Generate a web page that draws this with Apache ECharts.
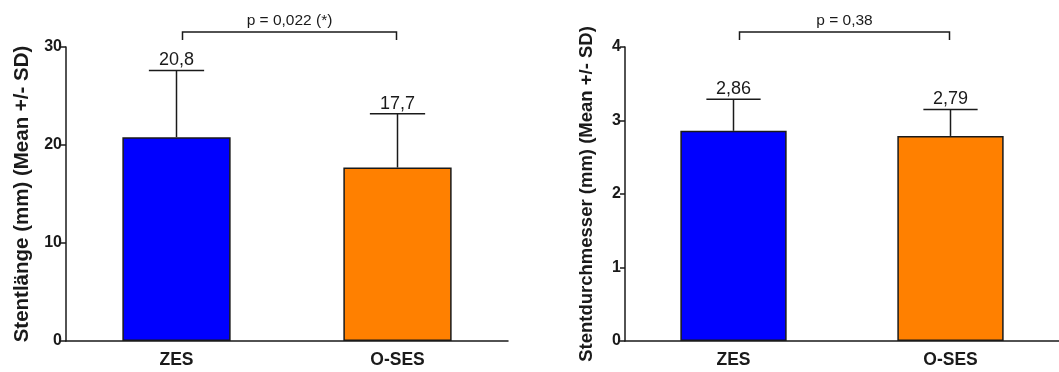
<!DOCTYPE html>
<html>
<head>
<meta charset="utf-8">
<script src="https://cdn.jsdelivr.net/npm/echarts@6/dist/echarts.min.js"></script>
<style>
  html, body { margin: 0; padding: 0; background: #fff; }
  #chart { width: 1059px; height: 372px; }
</style>
</head>
<body>
<div id="chart"></div>
<script>
// Stent length and diameter by stent type (mean +/- SD)
const categories = ['ZES', 'O-SES'];
const barColors = ['#0000ff', '#ff8000'];

const lengthMean = [20.8, 17.7];
const lengthSD = [6.8, 5.5];
const lengthTicks = { max: 30, interval: 10 };
const lengthPText = 'p = 0,022 (*)';

const diamMean = [2.86, 2.79];
const diamSD = [0.43, 0.36];
const diamTicks = { max: 4, interval: 1 };
const diamPText = 'p = 0,38';

const fontFamily = 'Liberation Sans, Arial, sans-serif';
const fmt = v => String(v).replace('.', ',');

function barSeries(idx, means) {
  return {
    type: 'bar',
    xAxisIndex: idx, yAxisIndex: idx,
    barWidth: '49%',
    data: means.map((v, i) => ({
      value: v,
      itemStyle: { color: barColors[i], borderColor: '#1a1a1a', borderWidth: 1.5 }
    })),
    z: 2
  };
}

// error bar (upper whisker only) with the mean written above the cap
function errorSeries(idx, means, sds) {
  return {
    type: 'custom',
    xAxisIndex: idx, yAxisIndex: idx,
    clip: false,
    z: 3,
    data: means.map((m, i) => [i, m, sds[i]]),
    renderItem: function (params, api) {
      const x = api.value(0), m = api.value(1), s = api.value(2);
      const base = api.coord([x, m]);
      const top = api.coord([x, m + s]);
      const half = api.size([1, 0])[0] * 0.125;
      const st = { stroke: '#1a1a1a', lineWidth: 1.5 };
      return {
        type: 'group',
        children: [
          { type: 'line', shape: { x1: base[0], y1: base[1], x2: top[0], y2: top[1] }, style: st },
          { type: 'line', shape: { x1: top[0] - half, y1: top[1], x2: top[0] + half, y2: top[1] }, style: st },
          { type: 'text', x: top[0], y: top[1] - 1,
            style: { text: fmt(m), fill: '#1a1a1a', font: '18px ' + fontFamily,
                     align: 'center', verticalAlign: 'bottom' } }
        ]
      };
    }
  };
}

// significance bracket spanning both groups above the plot
function bracketSeries(idx, maxVal, text) {
  return {
    type: 'custom',
    xAxisIndex: idx, yAxisIndex: idx,
    clip: false,
    z: 3,
    data: [[0, 1, maxVal]],
    renderItem: function (params, api) {
      const a = api.coord([api.value(0), api.value(2)]);
      const b = api.coord([api.value(1), api.value(2)]);
      const yTop = a[1] - 15, yLeg = a[1] - 7;
      const xa = a[0] + 6, xb = b[0] - 1;
      const st = { stroke: '#1a1a1a', lineWidth: 1.5, fill: null };
      return {
        type: 'group',
        children: [
          { type: 'polyline', shape: { points: [[xa, yLeg], [xa, yTop], [xb, yTop], [xb, yLeg]] }, style: st },
          { type: 'text', x: (xa + xb) / 2, y: yTop - 3,
            style: { text: text, fill: '#1a1a1a', font: '15.5px ' + fontFamily,
                     align: 'center', verticalAlign: 'bottom' } }
        ]
      };
    }
  };
}

function xAxis(idx) {
  return {
    type: 'category', gridIndex: idx, data: categories,
    axisLine: { lineStyle: { color: '#1a1a1a', width: 1.5 } },
    axisTick: { alignWithLabel: true, length: 4, lineStyle: { color: '#1a1a1a', width: 1.5 } },
    axisLabel: { color: '#1a1a1a', fontWeight: 'bold', fontSize: 17.5, fontFamily: fontFamily, margin: 10 }
  };
}

function yAxis(idx, ticks, name, gap, nameSize) {
  return {
    type: 'value', gridIndex: idx, min: 0, max: ticks.max, interval: ticks.interval,
    name: name, nameLocation: 'middle', nameGap: gap,
    nameTextStyle: { color: '#1a1a1a', fontWeight: 'bold', fontSize: nameSize, fontFamily: fontFamily },
    splitLine: { show: false },
    axisLine: { show: true, lineStyle: { color: '#1a1a1a', width: 1.5 } },
    axisTick: { show: true, length: 5, lineStyle: { color: '#1a1a1a', width: 1.5 } },
    axisLabel: { color: '#1a1a1a', fontWeight: 'bold', fontSize: 16, fontFamily: fontFamily, margin: 4 }
  };
}

const chart = echarts.init(document.getElementById('chart'), null, { renderer: 'canvas' });
chart.setOption({
  animation: false,
  backgroundColor: '#ffffff',
  grid: [
    { left: 66, top: 47, width: 442, height: 294 },
    { left: 625, top: 47, width: 436, height: 294 }
  ],
  xAxis: [xAxis(0), xAxis(1)],
  yAxis: [
    yAxis(0, lengthTicks, 'Stentlänge (mm) (Mean +/- SD)', 33, 20.5),
    yAxis(1, diamTicks, 'Stentdurchmesser (mm) (Mean +/- SD)', 29, 18.5)
  ],
  series: [
    barSeries(0, lengthMean),
    errorSeries(0, lengthMean, lengthSD),
    bracketSeries(0, lengthTicks.max, lengthPText),
    barSeries(1, diamMean),
    errorSeries(1, diamMean, diamSD),
    bracketSeries(1, diamTicks.max, diamPText)
  ]
});
</script>
</body>
</html>
